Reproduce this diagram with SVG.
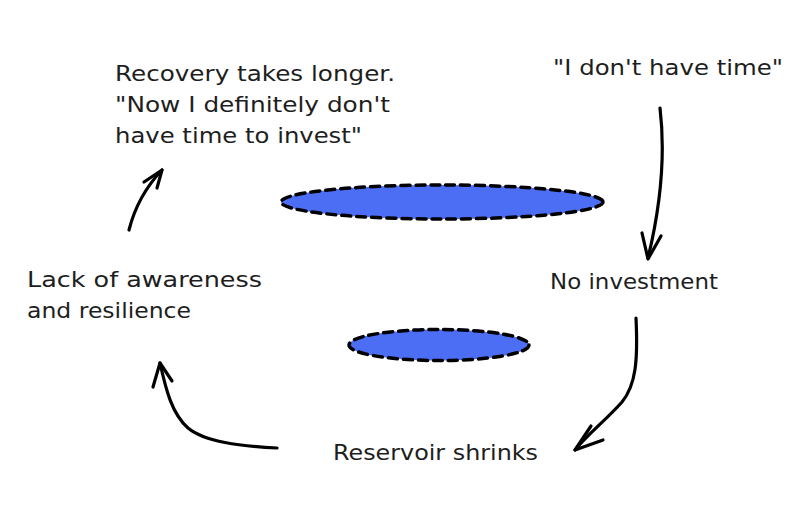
<svg xmlns="http://www.w3.org/2000/svg" width="787" height="507" viewBox="0 0 787 507">
<style>
.t{font-family:"DejaVu Sans","Liberation Sans",sans-serif;font-size:21px;fill:#1e1e1e}
.res{fill:#4c6ef5;stroke:#000;stroke-width:3.5;stroke-dasharray:9 6;stroke-linecap:round}
.c{fill:none;stroke:#000;stroke-width:3.2;stroke-linecap:round;stroke-linejoin:round}
</style>
<rect width="787" height="507" fill="#fff"/>
<g id="reservoir-top"><ellipse class="res" cx="442" cy="202" rx="161" ry="17"/></g>
<g id="reservoir-bottom"><ellipse class="res" cx="439" cy="345" rx="90" ry="15.5"/></g>
<g id="recovery">
<text class="t" x="115" y="81" textLength="280" lengthAdjust="spacingAndGlyphs">Recovery takes longer.</text>
<text class="t" x="115" y="112" textLength="275" lengthAdjust="spacingAndGlyphs">"Now I definitely don't</text>
<text class="t" x="115" y="143" textLength="247" lengthAdjust="spacingAndGlyphs">have time to invest"</text>
</g>
<g id="no-time"><text class="t" x="553" y="75" textLength="230" lengthAdjust="spacingAndGlyphs">"I don't have time"</text></g>
<g id="no-investment"><text class="t" x="550" y="289" textLength="168" lengthAdjust="spacingAndGlyphs">No investment</text></g>
<g id="lack">
<text class="t" x="27" y="287" textLength="235" lengthAdjust="spacingAndGlyphs">Lack of awareness</text>
<text class="t" x="27" y="318" textLength="164" lengthAdjust="spacingAndGlyphs">and resilience</text>
</g>
<g id="shrinks"><text class="t" x="333" y="460" textLength="205" lengthAdjust="spacingAndGlyphs">Reservoir shrinks</text></g>
<g id="connectors">
<path class="c" d="M660 108 C665 150 662 200 648 258"/>
<path class="c" d="M642 233 L648 259 L661 236"/>
<path class="c" d="M636 318 C638 360 636 385 622 402 C606 420 588 434 575 450"/>
<path class="c" d="M591 426 L575 450 L603 440"/>
<path class="c" d="M277 448 C240 446 205 442 188 428 C172 414 166 390 160 363"/>
<path class="c" d="M153 387 L160 363 L172 381"/>
<path class="c" d="M129 230 C134 210 145 188 162 170"/>
<path class="c" d="M144 182 L162 170 L157 188"/>
</g>
</svg>
